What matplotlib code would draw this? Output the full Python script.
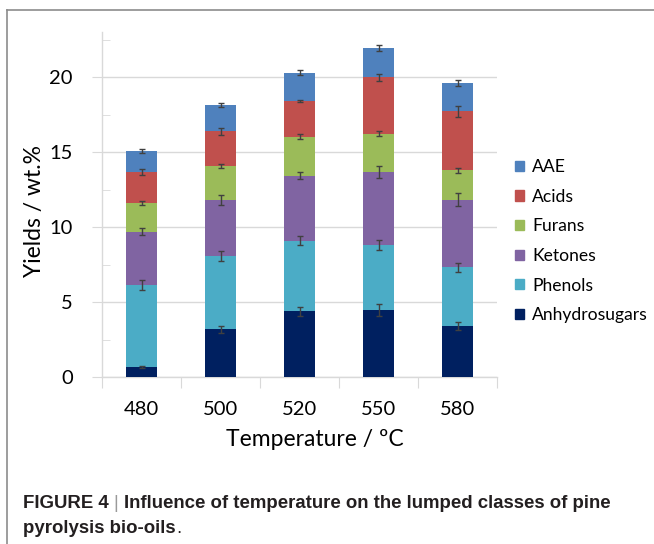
import numpy as np
import matplotlib
matplotlib.use("Agg")
import matplotlib.pyplot as plt
from matplotlib.lines import Line2D
from matplotlib.patches import Patch
from matplotlib.transforms import IdentityTransform

plt.rcParams["font.family"] = ["Lato", "DejaVu Sans"]

temps = ["480", "500", "520", "550", "580"]
classes = ["Anhydrosugars", "Phenols", "Ketones", "Furans", "Acids", "AAE"]
colors = ["#002060", "#4BACC6", "#8064A2", "#9BBB59", "#C0504D", "#4F81BD"]

# yields in wt.% per class, one value per temperature
anhydrosugars = [0.67, 3.18, 4.38, 4.47, 3.42]
phenols = [5.49, 4.89, 4.71, 4.33, 3.89]
ketones = [3.53, 3.73, 4.33, 4.87, 4.51]
furans = [1.89, 2.27, 2.60, 2.55, 1.96]
acids = [2.09, 2.31, 2.38, 3.76, 3.93]
aae = [1.42, 1.75, 1.89, 1.93, 1.89]

# error bars (half length)
err_anhydrosugars = [0.05, 0.23, 0.29, 0.40, 0.26]
err_phenols = [0.33, 0.34, 0.31, 0.32, 0.30]
err_ketones = [0.23, 0.34, 0.23, 0.38, 0.42]
err_furans = [0.13, 0.14, 0.17, 0.18, 0.18]
err_acids = [0.22, 0.22, 0.09, 0.23, 0.36]
err_aae = [0.14, 0.14, 0.16, 0.21, 0.21]

series = [anhydrosugars, phenols, ketones, furans, acids, aae]
errors = [err_anhydrosugars, err_phenols, err_ketones, err_furans, err_acids, err_aae]

W, H = 654, 544
fig = plt.figure(figsize=(W / 100, H / 100), dpi=100)
ax = fig.add_axes([102 / W, 1 - 377 / H, 395 / W, 345 / H])

grid_c = "#D9D9D9"
x = np.arange(len(temps))
bottom = np.zeros(len(temps))
for vals, errs, c, name in zip(series, errors, colors, classes):
    vals = np.array(vals)
    ax.bar(x, vals, width=0.39, bottom=bottom, color=c, edgecolor="none", zorder=3, label=name)
    ax.errorbar(x, bottom + vals, yerr=errs, fmt="none", ecolor="#404040",
                elinewidth=1, capsize=2, capthick=1, zorder=4)
    bottom = bottom + vals

ax.set_xlim(-0.5, len(temps) - 0.5)
ax.set_ylim(0, 23)
ax.set_yticks([0, 5, 10, 15, 20])
ax.set_yticks(np.arange(2.5, 23, 5), minor=True)
ax.set_xticks(np.arange(-0.5, len(temps), 1.0))
ax.set_xticklabels([])
ax.set_xticks(x, minor=True)
ax.set_xticklabels(temps, minor=True)

ax.grid(axis="y", which="major", color=grid_c, lw=1, zorder=0)
for s in ["top", "right"]:
    ax.spines[s].set_visible(False)
for s in ["left", "bottom"]:
    ax.spines[s].set_color(grid_c)
    ax.spines[s].set_linewidth(1)

ax.tick_params(axis="y", which="major", direction="out", length=7, color=grid_c,
               labelsize=14.5, pad=14)
ax.tick_params(axis="y", which="minor", direction="in", length=6, color=grid_c)
ax.tick_params(axis="x", which="major", direction="out", length=8, color=grid_c)
ax.tick_params(axis="x", which="minor", length=0, labelsize=14.5, pad=17)

fig.text(315 / W, 1 - 440 / H, "Temperature / ºC", ha="center", va="center", fontsize=16.5)
fig.text(35 / W, 1 - 211 / H, "Yields / wt.%", ha="center", va="center", rotation=90, fontsize=16.5)

handles = [Patch(color=c, label=n) for c, n in zip(colors, classes)][::-1]
fig.legend(handles=handles, loc="upper left", bbox_to_anchor=(515 / W, 1 - 159 / H),
           frameon=False, fontsize=12.6, handlelength=0.52, handleheight=0.52,
           handletextpad=0.45, labelspacing=0.78, borderpad=0, borderaxespad=0)

# frame around the figure panel
fig.add_artist(Line2D([7 / W, 7 / W], [0, 1 - 10 / H], color="#8C8C8C", lw=1.2))
fig.add_artist(Line2D([7 / W, 1], [1 - 10 / H, 1 - 10 / H], color="#8C8C8C", lw=1.2))

# caption, built from pieces
renderer = fig.canvas.get_renderer()
cap_font = ["Liberation Sans", "DejaVu Sans"]


def put_parts(px, py, parts):
    for s, weight, color, gap in parts:
        t = fig.text(px, H - py, s, transform=IdentityTransform(), fontsize=13.4,
                     family=cap_font, weight=weight, color=color, va="baseline")
        px += t.get_window_extent(renderer).width + gap


put_parts(23, 508, [("FIGURE 4", "bold", "#231F20", 5),
                    ("|", "normal", "#9A9A9A", 5),
                    ("Influence of temperature on the lumped classes of pine", "bold", "#231F20", 0)])
put_parts(23, 533, [("pyrolysis bio-oils", "bold", "#231F20", 0.5),
                    (".", "normal", "#231F20", 0)])

fig.savefig("out.png", dpi=100)
